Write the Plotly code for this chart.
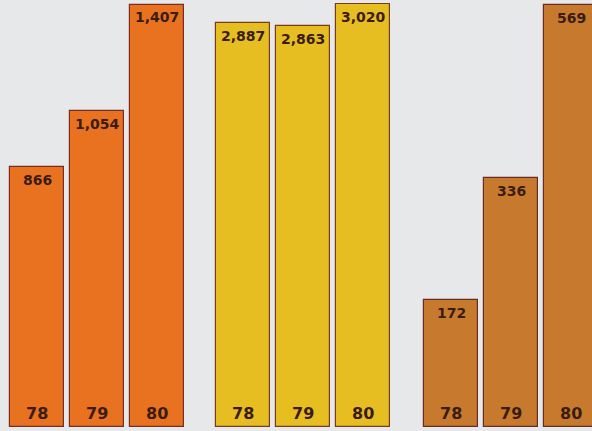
import plotly.graph_objects as go

years = ["78", "79", "80"]
group_a = [866, 1054, 1407]
group_b = [2887, 2863, 3020]
group_c = [172, 336, 569]

groups = [group_a, group_b, group_c]
colors = ["#E8721F", "#E7BE22", "#C77A2D"]
line_colors = ["#7a2c22", "#7a3a22", "#6a2c22"]
y_max = [1412, 3028, 572]
x_domains = [[7/592, 187/592], [213/592, 393/592], [421/592, 1.0]]
x_ranges = [[-0.5, 2.5], [-0.5, 2.5], [-0.5, -0.5 + 171/60]]

fig = go.Figure()
annotations = []
for i, vals in enumerate(groups):
    sfx = "" if i == 0 else str(i + 1)
    fig.add_trace(go.Bar(
        x=[0, 1, 2], y=vals, width=0.9,
        marker=dict(color=colors[i], line=dict(color=line_colors[i], width=1.2)),
        xaxis="x" + sfx, yaxis="y" + sfx, showlegend=False, hoverinfo="skip",
    ))
    for j, v in enumerate(vals):
        annotations.append(dict(
            x=j, y=v, xref="x" + sfx, yref="y" + sfx, text="<b>{:,}</b>".format(v),
            showarrow=False, yanchor="top", yshift=-3,
            font=dict(family="DejaVu Sans", size=14, color="#3a1c12"),
        ))
        annotations.append(dict(
            x=j, y=0, xref="x" + sfx, yref="y" + sfx, text="<b>" + years[j] + "</b>",
            showarrow=False, yanchor="bottom", yshift=2,
            font=dict(family="DejaVu Sans", size=16, color="#3a1c12"),
        ))
    fig.update_layout(**{
        "xaxis" + sfx: dict(domain=x_domains[i], range=x_ranges[i], visible=False, fixedrange=True),
        "yaxis" + sfx: dict(domain=[4/431, 428/431], range=[0, y_max[i]], visible=False,
                             anchor="x" + sfx),
    })

fig.update_layout(
    width=592, height=431, margin=dict(l=0, r=0, t=0, b=0),
    paper_bgcolor="#E7E8EA", plot_bgcolor="rgba(0,0,0,0)",
    annotations=annotations, bargap=0,
)
fig.write_html("out.html")
